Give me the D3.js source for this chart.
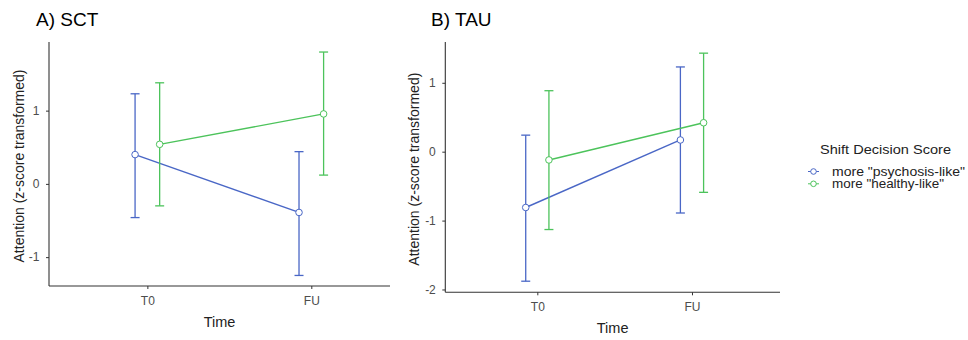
<!DOCTYPE html>
<html>
<head>
<meta charset="utf-8">
<script src="https://cdn.jsdelivr.net/npm/d3@7/dist/d3.min.js"></script>
<style>
  body { margin: 0; background: #fff; }
  svg { display: block; font-family: Arial, "Liberation Sans", sans-serif; }
</style>
</head>
<body>
<svg id="chart" width="968" height="340"></svg>
<script>
// Time points and groups
const timePoints = ["T0", "FU"];
const groups = ['more "psychosis-like"', 'more "healthy-like"'];
const groupColors = ["#4a67c6", "#4cc35b"];

// Panel A (SCT): means and error-bar limits, per group, per time point
const sctMean = [[0.40, -0.39], [0.54, 0.955]];
const sctLow  = [[-0.46, -1.25], [-0.30, 0.12]];
const sctHigh = [[1.23, 0.44], [1.38, 1.80]];

// Panel B (TAU)
const tauMean = [[-0.81, 0.17], [-0.12, 0.42]];
const tauLow  = [[-1.88, -0.89], [-1.13, -0.59]];
const tauHigh = [[0.24, 1.23], [0.885, 1.43]];

const sctTicks = [-1, 0, 1];
const tauTicks = [-2, -1, 0, 1];

const svg = d3.select("#chart");
const dodge = 0.075;
const FONT = "Arial, 'Liberation Sans', sans-serif";

const panels = [
  { title: "A) SCT", mean: sctMean, low: sctLow, high: sctHigh, ticks: sctTicks,
    left: 49, right: 390, top: 42, bottom: 286,
    xDomain: [-0.6, 1.48], yDomain: [-1.394, 1.937],
    titleX: 36, yTitleX: 18.5, timeY: 327 },
  { title: "B) TAU", mean: tauMean, low: tauLow, high: tauHigh, ticks: tauTicks,
    left: 445.3, right: 780, top: 42, bottom: 292.3,
    xDomain: [-0.595, 1.569], yDomain: [-2.041, 1.592],
    titleX: 431, yTitleX: 413.5, timeY: 333 }
];

panels.forEach(p => {
  const x = d3.scaleLinear().domain(p.xDomain).range([p.left, p.right]);
  const y = d3.scaleLinear().domain(p.yDomain).range([p.bottom, p.top]);
  const g = svg.append("g");

  // panel title
  g.append("text").attr("x", p.titleX).attr("y", 26)
    .attr("font-size", 19).attr("fill", "#000").text(p.title);

  // y axis (plain hyphen for negatives)
  const yAxis = d3.axisLeft(y).tickValues(p.ticks).tickSize(3).tickPadding(6.5)
    .tickFormat(d => String(d));
  const ya = g.append("g").attr("transform", `translate(${p.left},0)`).call(yAxis);
  ya.select(".domain").attr("d", `M0,${p.top}V${p.bottom}`).attr("stroke", "#333").attr("stroke-width", 1.1);
  ya.selectAll(".tick line").attr("stroke", "#333");
  ya.selectAll(".tick text").attr("fill", "#4d4d4d").attr("font-size", 12).attr("font-family", FONT);

  // x axis
  const xAxis = d3.axisBottom(x).tickValues([0, 1]).tickSize(3).tickPadding(7)
    .tickFormat(i => timePoints[i]);
  const xa = g.append("g").attr("transform", `translate(0,${p.bottom})`).call(xAxis);
  xa.select(".domain").attr("d", `M${p.left},0H${p.right}`).attr("stroke", "#333").attr("stroke-width", 1.1);
  xa.selectAll(".tick line").attr("stroke", "#333");
  xa.selectAll(".tick text").attr("fill", "#4d4d4d").attr("font-size", 12).attr("font-family", FONT);

  // axis titles
  g.append("text").attr("x", (p.left + p.right) / 2).attr("y", p.timeY)
    .attr("text-anchor", "middle").attr("font-size", 14.5).attr("fill", "#222").text("Time");
  g.append("text")
    .attr("transform", `translate(${p.yTitleX},${(p.top + p.bottom) / 2 + 2}) rotate(-90)`)
    .attr("text-anchor", "middle").attr("dominant-baseline", "central")
    .attr("font-size", 14).attr("fill", "#222").text("Attention (z-score transformed)");

  groups.forEach((grp, gi) => {
    const off = gi === 0 ? -dodge : dodge;
    const col = groupColors[gi];
    const pts = timePoints.map((t, ti) => ({
      xv: ti + off, m: p.mean[gi][ti], lo: p.low[gi][ti], hi: p.high[gi][ti]
    }));
    // error bars with caps
    pts.forEach(d => {
      const cx = x(d.xv);
      g.append("line").attr("x1", cx).attr("x2", cx).attr("y1", y(d.lo)).attr("y2", y(d.hi))
        .attr("stroke", col).attr("stroke-width", 1.3);
      [d.lo, d.hi].forEach(v => {
        g.append("line").attr("x1", cx - 4.5).attr("x2", cx + 4.5).attr("y1", y(v)).attr("y2", y(v))
          .attr("stroke", col).attr("stroke-width", 1.3);
      });
    });
    // connecting line
    g.append("path").datum(pts)
      .attr("d", d3.line().x(d => x(d.xv)).y(d => y(d.m)))
      .attr("fill", "none").attr("stroke", col).attr("stroke-width", 1.4);
    // open points
    g.selectAll(null).data(pts).enter().append("circle")
      .attr("cx", d => x(d.xv)).attr("cy", d => y(d.m)).attr("r", 3.3)
      .attr("fill", "#fff").attr("stroke", col).attr("stroke-width", 1);
  });
});

// legend
const lg = svg.append("g");
lg.append("text").attr("x", 820).attr("y", 153.5)
  .attr("font-size", 13.5).attr("fill", "#222")
  .attr("textLength", 131).attr("lengthAdjust", "spacingAndGlyphs")
  .text("Shift Decision Score");
const itemWidths = [133, 112];
groups.forEach((grp, gi) => {
  const yy = 171.5 + gi * 12.3;
  lg.append("line").attr("x1", 808).attr("x2", 819).attr("y1", yy).attr("y2", yy)
    .attr("stroke", groupColors[gi]).attr("stroke-width", 1);
  lg.append("circle").attr("cx", 813.5).attr("cy", yy).attr("r", 2.8)
    .attr("fill", "#fff").attr("stroke", groupColors[gi]).attr("stroke-width", 1);
  lg.append("text").attr("x", 832).attr("y", yy + 4.3)
    .attr("font-size", 12).attr("fill", "#222")
    .attr("textLength", itemWidths[gi]).attr("lengthAdjust", "spacingAndGlyphs")
    .text(grp);
});
</script>
</body>
</html>
